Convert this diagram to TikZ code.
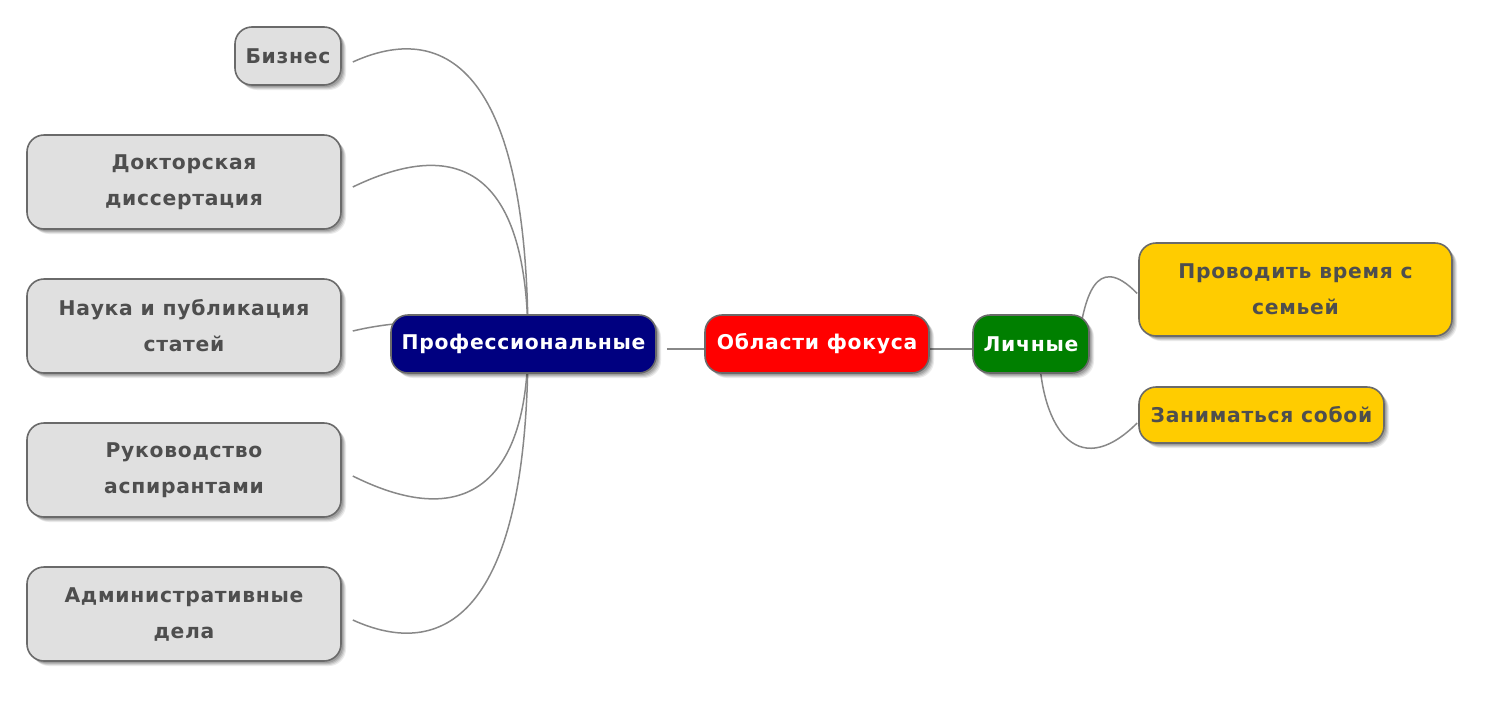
\documentclass[tikz,border=0pt]{standalone}
\usepackage{fontspec}
\newfontfamily\nodefont[LetterSpace=3.5]{DejaVu Sans}
\usetikzlibrary{calc,shadows}
\pgfdeclarelayer{background}
\pgfsetlayers{background,main}
\definecolor{boxgray}{HTML}{E0E0E0}
\definecolor{boxline}{HTML}{6A6A6A}
\definecolor{txtgray}{HTML}{4E4E4E}
\definecolor{profblue}{HTML}{000080}
\definecolor{focusred}{HTML}{FF0000}
\definecolor{persgreen}{HTML}{007F00}
\definecolor{persyellow}{HTML}{FFCC00}
\definecolor{connline}{HTML}{888888}
\tikzset{
  mmbox/.style={draw=boxline, line width=1.6pt, rounded corners=17pt, inner sep=0pt,
    align=center, font=\nodefont\bfseries\fontsize{20.3}{36}\selectfont, text=txtgray,
    drop shadow={shadow xshift=5pt, shadow yshift=-5pt, opacity=0.08, fill=black},
    drop shadow={shadow xshift=4pt, shadow yshift=-4pt, opacity=0.10, fill=black},
    drop shadow={shadow xshift=3pt, shadow yshift=-3pt, opacity=0.12, fill=black},
    drop shadow={shadow xshift=2pt, shadow yshift=-2pt, opacity=0.14, fill=black}},
  graybox/.style={mmbox, fill=boxgray},
  yellowbox/.style={mmbox, fill=persyellow},
  mainbox/.style={mmbox, text=white},
  conn/.style={draw=connline, line width=1.5pt}
}
\begin{document}
\begin{tikzpicture}[x=1pt, y=-1pt]
\useasboundingbox (0,0) rectangle (1494,702);
% left children
\node[graybox, minimum width=106pt, minimum height=58pt] (biz) at (288,56) {Бизнес};
\node[graybox, minimum width=314pt, minimum height=94pt] (doc) at (184,182) {Докторская\\диссертация};
\node[graybox, minimum width=314pt, minimum height=94pt] (sci) at (184,326) {Наука и публикация\\статей};
\node[graybox, minimum width=314pt, minimum height=94pt] (sup) at (184,470) {Руководство\\аспирантами};
\node[graybox, minimum width=314pt, minimum height=94pt] (adm) at (184,614) {Административные\\дела};
% main row
\node[mainbox, fill=profblue, minimum width=265pt, minimum height=58pt] (prof) at (523.5,344) {Профессиональные};
\node[mainbox, fill=focusred, minimum width=224pt, minimum height=58pt] (focus) at (817,344) {Области фокуса};
\node[mainbox, fill=persgreen, minimum width=116pt, minimum height=58pt] (pers) at (1031,344) {Личные};
% right children
\node[yellowbox, minimum width=313pt, minimum height=93pt] (fam) at (1295.5,289.5) {Проводить время с\\семьей};
\node[yellowbox, minimum width=245pt, minimum height=56pt] (self) at (1261.5,415) {Заниматься собой};
% connector anchor points
\coordinate (pc) at ($(prof.center)+(4.5,-1)$);
\coordinate (bizA) at ($(biz.east)+(11,6)$);
\coordinate (docA) at ($(doc.east)+(11,5)$);
\coordinate (sciA) at ($(sci.east)+(11,5)$);
\coordinate (supA) at ($(sup.east)+(11,6)$);
\coordinate (admA) at ($(adm.east)+(11,6)$);
\coordinate (profR) at ($(prof.east)+(10,5)$);
\coordinate (focusC) at ($(focus.center)+(0,5)$);
\coordinate (persC) at ($(pers.center)+(0,5)$);
\coordinate (persU) at ($(pers.center)+(47,0)$);
\coordinate (persD) at ($(pers.center)+(8,0)$);
\coordinate (famA) at ($(fam.west)+(-1,4)$);
\coordinate (selfA) at ($(self.west)+(-1,8)$);
\begin{pgfonlayer}{background}
\draw[conn] (pc) .. controls (pc |- bizA) and ($(bizA)+(88,-40)$) .. (bizA);
\draw[conn] (pc) .. controls (pc |- docA) and ($(docA)+(118,-57)$) .. (docA);
\draw[conn] (pc) .. controls (pc |- sciA) and ($(sciA)+(88,-21)$) .. (sciA);
\draw[conn] (pc) .. controls (pc |- supA) and ($(supA)+(118,59)$) .. (supA);
\draw[conn] (pc) .. controls (pc |- admA) and ($(admA)+(88,40)$) .. (admA);
\draw[conn] (profR) -- (focusC);
\draw[conn] (focusC) -- (persC);
\draw[conn] (persU) .. controls ($(persU)+(6,-44)$) and ($(persU)+(17,-94)$) .. (famA);
\draw[conn] (persD) .. controls (persD |- selfA) and ($(persD)+(36,141)$) .. (selfA);
\end{pgfonlayer}
\end{tikzpicture}
\end{document}
